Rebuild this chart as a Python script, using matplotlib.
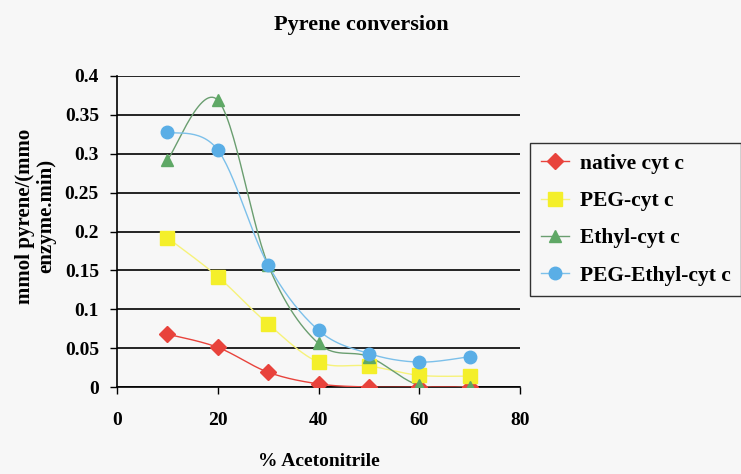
import numpy as np
import matplotlib
matplotlib.use("Agg")
import matplotlib.pyplot as plt
from matplotlib.lines import Line2D

acetonitrile = [10, 20, 30, 40, 50, 60, 70]
native = [0.068, 0.051, 0.019, 0.004, 0.0, 0.0, 0.0]
peg = [0.192, 0.142, 0.081, 0.032, 0.027, 0.015, 0.014]
ethyl = [0.292, 0.369, 0.157, 0.056, 0.039, 0.002, 0.0]
peg_ethyl = [0.328, 0.305, 0.157, 0.073, 0.043, 0.032, 0.039]
labels = ["native cyt c", "PEG-cyt c", "Ethyl-cyt c", "PEG-Ethyl-cyt c"]


def smooth(xs, ys, n=30):
    # Excel-like smoothed line (Bezier with Catmull-Rom control points)
    xs = np.asarray(xs, float)
    ys = np.asarray(ys, float)
    px, py = [], []
    m = len(xs)
    t = 1.0 / 6.0
    for i in range(m - 1):
        x0, y0 = (xs[i - 1], ys[i - 1]) if i > 0 else (xs[i], ys[i])
        x1, y1 = xs[i], ys[i]
        x2, y2 = xs[i + 1], ys[i + 1]
        x3, y3 = (xs[i + 2], ys[i + 2]) if i + 2 < m else (x2, y2)
        c1x, c1y = x1 + (x2 - x0) * t, y1 + (y2 - y0) * t
        c2x, c2y = x2 - (x3 - x1) * t, y2 - (y3 - y1) * t
        s = np.linspace(0, 1, n)
        bx = (1 - s) ** 3 * x1 + 3 * (1 - s) ** 2 * s * c1x + 3 * (1 - s) * s ** 2 * c2x + s ** 3 * x2
        by = (1 - s) ** 3 * y1 + 3 * (1 - s) ** 2 * s * c1y + 3 * (1 - s) * s ** 2 * c2y + s ** 3 * y2
        px.extend(bx)
        py.extend(by)
    return np.array(px), np.array(py)


bg = "#f7f7f7"
fig = plt.figure(figsize=(7.41, 4.74), dpi=100, facecolor=bg)
ax = fig.add_axes([117 / 741, 1 - 387 / 474, (520 - 117) / 741, (387 - 76) / 474])
ax.set_facecolor(bg)

serif = "Liberation Serif"
series = [
    (native, "#e8433c", "#e8433c", "D", 8),
    (peg, "#f4ef2a", "#f6f27a", "s", 10),
    (ethyl, "#5fa866", "#6a9e70", "^", 9),
    (peg_ethyl, "#5aaee6", "#7cc0ea", "o", 9),
]
handles = []
for (vals, mc, lc, mk, ms), lab in zip(series, labels):
    sx, sy = smooth(acetonitrile, vals)
    ax.plot(sx, sy, color=lc, lw=1.0, zorder=3)
    ax.plot(acetonitrile, vals, linestyle="none", marker=mk, markersize=ms,
            color=mc, markeredgecolor=mc, zorder=4)
    handles.append(Line2D([], [], color=lc, lw=1.0, marker=mk, markersize=ms,
                          markerfacecolor=mc, markeredgecolor=mc))

ax.set_xlim(0, 80)
ax.set_ylim(0, 0.4)
ax.set_xticks([0, 20, 40, 60, 80])
ax.set_yticks([0, 0.05, 0.1, 0.15, 0.2, 0.25, 0.3, 0.35, 0.4])
ax.set_yticklabels(["0", "0.05", "0.1", "0.15", "0.2", "0.25", "0.3", "0.35", "0.4"])
ax.yaxis.grid(True, color="black", lw=1.2)
ax.set_axisbelow(True)
for s in ["top", "right"]:
    ax.spines[s].set_visible(False)
ax.spines["left"].set_linewidth(1.2)
ax.spines["bottom"].set_linewidth(1.2)
ax.tick_params(axis="both", direction="out", length=5, width=1.0, colors="black")
ax.tick_params(axis="x", pad=13)
ax.tick_params(axis="y", pad=8)
for t in ax.get_xticklabels() + ax.get_yticklabels():
    t.set_fontfamily(serif)
    t.set_fontweight("bold")
    t.set_fontsize(14)

fig.text(319 / 741, 1 - 461 / 474, "% Acetonitrile", ha="center", va="center",
         fontfamily=serif, fontweight="bold", fontsize=14)
fig.text(36 / 741, 1 - 216 / 474, "mmol pyrene/(mmo\nenzyme.min)", rotation=90,
         ha="center", va="center", multialignment="center", fontfamily=serif,
         fontweight="bold", fontsize=15, linespacing=1.1)
fig.text(361 / 741, 1 - 25 / 474, "Pyrene conversion", ha="center", va="center",
         fontfamily=serif, fontweight="bold", fontsize=16)

leg = fig.legend(handles, labels, loc="upper left", bbox_to_anchor=(530 / 741, 1 - 143 / 474),
                 frameon=True, fancybox=False, edgecolor="black", facecolor=bg,
                 prop={"family": serif, "weight": "bold", "size": 15.5},
                 handlelength=1.3, handletextpad=0.5, labelspacing=0.8, borderpad=0.5,
                 borderaxespad=0)
leg.get_frame().set_linewidth(1.0)

fig.savefig("out.png", dpi=100, facecolor=bg)
